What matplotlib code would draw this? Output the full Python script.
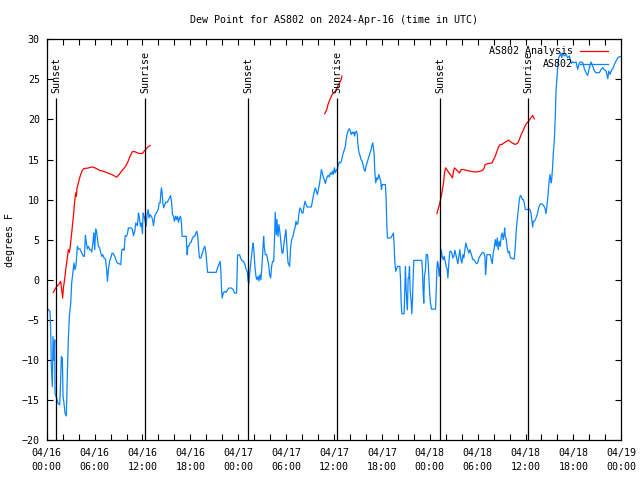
import numpy             as np
import pandas            as pd
import matplotlib
matplotlib.use('Agg')
import matplotlib.pyplot as plt
import matplotlib.dates  as mdates

START      = pd.Timestamp('2024-04-16 00:00')
END        = pd.Timestamp('2024-04-19 00:00')
FONT       = 'DejaVu Sans Mono'
FONT_SIZE  = 7.2
RED        = '#ff0000'
BLUE       = '#0a84ff'

############################
# Data (hours after START)
############################

obsHours = [
  0.16, 0.41, 0.50, 0.58, 0.71, 0.79, 0.92, 1.00, 1.04, 1.25, 1.42, 1.63, 1.75, 1.84, 1.96, 2.05,
  2.17, 2.30, 2.46, 2.59, 2.71, 2.84, 3.01, 3.13, 3.30, 3.42, 3.55, 3.68, 3.84, 3.97, 4.18, 4.39,
  4.60, 4.72, 4.85, 4.97, 5.10, 5.22, 5.39, 5.52, 5.64, 5.81, 5.89, 6.02, 6.14, 6.27, 6.40, 6.48,
  6.65, 6.77, 6.90, 7.02, 7.19, 7.36, 7.52, 7.61, 7.73, 7.90, 8.03, 8.19, 8.36, 8.53, 8.70, 8.86,
  9.07, 9.28, 9.41, 9.57, 9.70, 9.83, 9.99, 10.12, 10.24, 10.45, 10.62, 10.75, 10.87, 11.04, 11.16, 11.37,
  11.50, 11.62, 11.75, 11.87, 12.00, 12.08, 12.21, 12.33, 12.46, 12.58, 12.71, 12.83, 12.96, 13.21, 13.30, 13.38,
  13.55, 13.80, 13.97, 14.10, 14.22, 14.30, 14.38, 14.47, 14.55, 14.67, 14.80, 14.92, 15.13, 15.27, 15.39, 15.51,
  15.64, 15.76, 15.89, 16.01, 16.14, 16.26, 16.39, 16.51, 16.64, 16.77, 16.89, 16.97, 17.48, 17.60, 17.69, 17.81,
  17.94, 18.10, 18.27, 18.43, 18.56, 18.69, 18.81, 18.94, 19.06, 19.15, 19.32, 19.45, 19.57, 19.70, 19.82, 19.95,
  20.07, 20.16, 21.24, 21.40, 21.57, 21.74, 21.82, 21.91, 21.99, 22.12, 22.29, 22.49, 22.66, 22.83, 23.16, 23.37,
  23.54, 23.79, 23.86, 23.92, 24.17, 24.29, 24.46, 24.67, 24.84, 25.00, 25.13, 25.25, 25.34, 25.42, 25.55, 25.67,
  25.80, 25.88, 25.97, 26.09, 26.22, 26.34, 26.47, 26.59, 26.72, 26.84, 26.97, 27.09, 27.18, 27.26, 27.39, 27.56,
  27.68, 27.81, 27.93, 28.06, 28.18, 28.31, 28.44, 28.56, 28.64, 28.77, 28.85, 28.98, 29.10, 29.23, 29.35, 29.48,
  29.60, 29.73, 29.85, 29.98, 30.10, 30.23, 30.36, 30.44, 30.56, 30.69, 30.86, 30.98, 31.11, 31.24, 31.36, 31.49,
  31.61, 31.74, 31.86, 31.99, 32.12, 32.24, 32.37, 32.49, 32.62, 32.87, 33.16, 33.29, 33.41, 33.54, 33.66, 33.79,
  33.92, 34.04, 34.17, 34.29, 34.42, 34.54, 34.67, 34.79, 34.92, 35.04, 35.17, 35.30, 35.42, 35.55, 35.67, 35.80,
  35.92, 36.05, 36.17, 36.30, 36.42, 36.55, 36.68, 36.80, 36.93, 37.05, 37.18, 37.30, 37.43, 37.55, 37.68, 37.80,
  37.93, 38.05, 38.18, 38.30, 38.43, 38.51, 38.56, 38.68, 38.81, 38.93, 38.97, 39.10, 39.27, 39.39, 39.52, 39.64,
  39.77, 39.90, 40.02, 40.15, 40.27, 40.40, 40.52, 40.65, 40.73, 40.86, 40.94, 41.02, 41.11, 41.23, 41.36, 41.48,
  41.61, 41.73, 41.86, 41.94, 42.06, 42.44, 42.52, 42.62, 42.70, 43.11, 43.24, 43.36, 43.45, 43.53, 43.62, 43.74,
  43.87, 44.00, 44.25, 44.33, 44.41, 44.50, 44.79, 44.87, 44.95, 45.04, 45.12, 45.20, 45.29, 45.37, 45.46, 45.54,
  45.67, 45.75, 45.83, 45.92, 46.00, 47.00, 47.08, 47.17, 47.25, 47.33, 47.46, 47.55, 47.71, 47.79, 47.88, 47.96,
  48.09, 48.22, 48.72, 48.80, 48.89, 48.97, 49.06, 49.18, 49.30, 49.43, 49.55, 49.68, 49.81, 49.93, 50.06, 50.18,
  50.27, 50.39, 50.51, 50.64, 50.77, 50.89, 51.02, 51.15, 51.27, 51.40, 51.52, 51.65, 51.77, 51.90, 52.02, 52.15,
  52.27, 52.40, 52.52, 52.65, 52.78, 52.90, 53.03, 53.15, 53.28, 53.40, 53.53, 53.65, 53.78, 53.90, 54.03, 54.16,
  54.28, 54.41, 54.53, 54.66, 54.78, 54.91, 54.99, 55.07, 55.16, 55.58, 55.70, 55.83, 55.95, 56.08, 56.21, 56.33,
  56.46, 56.58, 56.71, 56.83, 56.96, 57.08, 57.21, 57.33, 57.38, 57.46, 57.59, 57.72, 57.84, 57.97, 58.10, 58.59,
  58.72, 58.84, 58.97, 59.09, 59.22, 59.35, 59.47, 59.60, 59.72, 59.85, 59.97, 60.18, 60.39, 60.56, 60.68, 60.81,
  60.89, 60.98, 61.10, 61.23, 61.39, 61.52, 61.64, 61.81, 61.93, 62.14, 62.31, 62.43, 62.56, 62.68, 62.81, 62.90,
  62.98, 63.06, 63.15, 63.23, 63.31, 63.40, 63.48, 63.56, 63.65, 63.73, 63.81, 63.90, 63.98, 64.07, 64.15, 64.28,
  64.40, 64.53, 64.65, 64.86, 65.07, 65.28, 65.49, 65.61, 65.74, 65.91, 66.12, 66.33, 66.54, 66.75, 66.96, 67.17,
  67.37, 67.58, 67.79, 68.00, 68.21, 68.42, 68.63, 68.84, 69.26, 69.47, 69.68, 69.89, 70.10, 70.31, 70.43, 70.60,
  70.77, 70.93, 71.14, 71.35, 71.56, 71.77, 72.00,
]

obsDewPoint = [
  -3.67, -3.96, -6.25, -10.83, -13.33, -7.08, -10.00, -7.50, -14.17, -14.79, -15.42, -15.63, -12.50, -9.58, -9.79, -14.58,
  -15.42, -16.67, -17.00, -11.67, -7.50, -4.58, -2.92, -0.42, 1.04, 2.08, 1.25, 1.88, 4.17, 3.83, 3.83, 3.33,
  2.92, 2.92, 5.54, 4.58, 3.83, 4.17, 3.75, 3.75, 3.46, 4.79, 5.83, 3.75, 6.33, 5.83, 4.79, 4.17,
  3.96, 3.33, 2.92, 3.13, 2.71, 2.58, 1.25, -0.21, 1.25, 2.42, 2.71, 3.33, 3.25, 2.92, 2.42, 2.08,
  2.00, 1.88, 3.75, 3.83, 3.67, 5.50, 5.42, 5.75, 6.46, 6.46, 6.46, 6.25, 5.50, 6.04, 7.08, 6.75,
  8.33, 7.71, 6.67, 7.08, 5.75, 8.33, 7.92, 7.29, 6.67, 8.13, 8.75, 7.71, 8.13, 7.71, 7.29, 6.75,
  8.00, 8.42, 8.75, 9.58, 9.58, 10.83, 11.46, 10.83, 9.58, 8.96, 9.38, 9.67, 9.67, 10.00, 10.20, 10.50,
  9.79, 8.13, 7.92, 7.29, 7.92, 7.50, 7.92, 7.17, 7.71, 7.92, 7.08, 5.42, 5.42, 3.13, 4.17, 4.17,
  4.58, 4.67, 5.21, 5.42, 5.42, 5.83, 6.04, 5.33, 3.54, 2.71, 2.71, 3.13, 3.54, 3.96, 4.17, 3.33,
  1.88, 0.92, 0.92, 1.46, 1.88, 2.29, 1.04, -1.25, -2.29, -1.67, -1.46, -1.58, -1.25, -1.04, -1.04, -1.25,
  -1.67, -1.67, 0.92, 3.08, 3.13, 2.71, 2.38, 2.29, 1.88, 1.25, 1.04, -0.21, -0.42, 0.63, 1.88, 2.92,
  4.17, 4.58, 3.54, 1.67, 0.42, 0.00, 0.42, -0.13, 0.63, 0.00, 1.67, 3.96, 5.42, 4.17, 3.13, 3.13,
  2.50, 1.88, 0.63, 0.21, 1.67, 2.29, 2.29, 5.42, 8.42, 5.63, 7.50, 5.42, 6.88, 5.83, 4.58, 3.33,
  3.33, 4.58, 5.42, 6.25, 4.17, 2.17, 1.88, 1.67, 3.96, 5.00, 5.42, 6.04, 6.46, 7.29, 6.88, 7.08,
  8.33, 8.96, 8.75, 8.33, 8.33, 9.17, 9.79, 9.38, 9.08, 9.08, 9.08, 9.79, 10.42, 11.04, 11.46, 11.04,
  10.63, 11.25, 11.88, 12.71, 13.75, 13.33, 12.71, 12.50, 12.00, 12.50, 12.92, 13.00, 12.83, 13.33, 13.13, 13.54,
  13.13, 13.96, 13.33, 13.75, 13.75, 14.38, 14.67, 14.58, 14.79, 15.42, 15.83, 16.25, 16.67, 17.71, 18.33, 18.67,
  18.83, 18.54, 18.13, 18.42, 18.25, 18.42, 17.92, 18.33, 18.54, 18.13, 17.08, 16.04, 15.42, 15.00, 14.79, 14.38,
  13.75, 13.54, 14.17, 14.58, 15.00, 15.42, 15.83, 16.25, 16.67, 17.08, 16.46, 15.83, 13.54, 12.08, 12.71, 12.50,
  13.13, 12.71, 12.29, 11.25, 11.88, 11.88, 10.42, 6.88, 5.21, 5.21, 5.42, 5.63, 5.83, 4.38, 2.29, 1.04,
  1.46, 1.67, 1.67, 0.21, -2.71, -4.25, -4.25, -1.25, 1.67, -1.25, -2.71, -3.75, 0.21, 0.21, 1.67, -1.25,
  -2.71, -4.25, -2.71, 0.42, 2.42, 2.42, 1.25, -1.46, -2.92, 0.42, 1.25, 3.13, 3.13, 2.29, 0.63, -1.17,
  -2.92, -3.67, -3.67, -1.67, 1.25, 2.29, 1.88, 0.42, 1.67, 3.75, 2.92, 2.50, 2.92, 2.29, 1.67, 1.25,
  0.21, 2.08, 3.54, 3.54, 3.33, 2.71, 2.92, 3.67, 3.13, 2.50, 2.00, 2.92, 3.75, 2.50, 2.08, 3.13,
  2.71, 3.75, 4.58, 4.08, 3.67, 3.33, 3.75, 3.33, 2.92, 2.50, 2.50, 2.29, 2.08, 2.00, 2.17, 2.71,
  2.92, 3.13, 3.33, 3.42, 3.33, 2.92, 0.63, 1.67, 3.13, 3.13, 2.50, 2.00, 3.33, 3.96, 5.00, 4.17,
  5.21, 3.75, 4.79, 4.17, 5.42, 5.83, 5.00, 5.83, 6.46, 5.42, 5.00, 3.75, 3.33, 3.54, 2.71, 2.58,
  4.17, 6.25, 7.50, 8.75, 10.00, 10.50, 10.42, 10.00, 10.00, 9.58, 8.75, 8.75, 8.83, 8.75, 8.33, 7.29,
  6.58, 7.29, 7.29, 7.50, 7.92, 8.33, 8.96, 9.38, 9.50, 9.38, 9.17, 8.96, 8.25, 9.17, 10.42, 11.67,
  12.50, 13.13, 12.50, 12.08, 12.92, 14.17, 15.83, 16.67, 18.33, 20.42, 23.33, 24.58, 25.83, 27.08, 27.71, 27.92,
  28.33, 27.71, 28.25, 27.92, 28.13, 27.71, 27.92, 27.50, 27.00, 27.17, 27.08, 27.17, 26.25, 27.08, 27.17, 27.08,
  26.33, 25.83, 25.50, 26.46, 27.17, 26.67, 26.04, 25.83, 25.83, 26.25, 26.46, 26.17, 26.04, 25.08, 26.04, 25.63,
  26.17, 26.33, 26.88, 27.29, 27.71, 27.83, 27.83,
]

# analysis series, NaN marks the gaps between runs
anaHours = [
  0.83, 1.13, 1.34, 1.55, 1.75, 1.88, 2.00, 2.09, 2.25, 2.38, 2.50, 2.63, 2.71, 2.84, 2.96, 3.13,
  3.26, 3.38, 3.51, 3.63, 3.72, 3.80, 3.92, 4.09, 4.26, 4.47, 4.68, 5.10, 5.72, 6.14, 6.56, 7.19,
  7.82, 8.24, 8.78, 9.07, 9.49, 9.91, 10.20, 10.45, 10.75, 11.08, 11.58, 12.00, 12.21, 12.46, 12.71, 12.96,
  np.nan,
  34.83, 35.10, 35.25, 35.50, 35.76, 36.17, 36.50, 36.90, 36.99,
  np.nan,
  48.89, 49.10, 49.31, 49.52, 49.72, 49.85, 49.98, 50.14, 50.35, 50.56, 50.85, 50.98, 51.10, 51.31, 51.52, 51.73,
  51.94, 52.23, 52.65, 53.07, 53.48, 53.90, 54.32, 54.65, 54.82, 54.94, 55.37, 55.79, 56.00, 56.21, 56.42, 56.62,
  56.83, 57.04, 57.46, 57.88, 58.30, 58.72, 59.05, 59.22, 59.47, 59.76, 59.97, 60.18, 60.39, 60.68, 60.89, 61.10,
]

anaDewPoint = [
  -1.58, -1.04, -0.75, -0.54, -0.21, -1.25, -2.29, -1.04, 0.08, 1.25, 2.08, 3.13, 3.75, 3.42, 4.25, 5.83,
  7.08, 8.33, 9.79, 10.83, 10.42, 11.46, 11.88, 12.58, 13.13, 13.67, 13.88, 13.92, 14.08, 13.92, 13.67, 13.50,
  13.25, 13.08, 12.79, 13.13, 13.67, 14.17, 14.79, 15.42, 16.00, 15.96, 15.75, 15.75, 16.04, 16.33, 16.58, 16.75,
  np.nan,
  20.71, 21.25, 21.88, 22.50, 23.10, 23.54, 24.17, 25.00, 25.40,
  np.nan,
  8.25, 8.96, 9.79, 10.83, 12.08, 13.33, 13.96, 13.75, 13.42, 13.13, 12.71, 13.54, 13.96, 13.75, 13.54, 13.33,
  13.75, 13.75, 13.63, 13.54, 13.46, 13.46, 13.54, 13.67, 13.96, 14.38, 14.50, 14.58, 15.00, 15.42, 16.04, 16.58,
  16.88, 16.88, 17.17, 17.42, 17.08, 16.88, 17.08, 17.50, 18.13, 18.75, 19.25, 19.58, 19.79, 20.21, 20.50, 20.08,
]

sunHours  = [1.21, 12.36, 25.27, 36.42, 49.33, 60.35]
sunLabels = ['Sunset', 'Sunrise', 'Sunset', 'Sunrise', 'Sunset', 'Sunrise']

def to_time(hours):
  return START + pd.to_timedelta(np.asarray(hours, dtype = float), unit = 'h')

############################
# Figure
############################

plt.rcParams['font.family'] = [FONT, 'DejaVu Sans']
plt.rcParams['font.size']   = FONT_SIZE

fig = plt.figure(figsize = (6.4, 4.8), dpi = 100)
ax  = fig.add_axes([46.7 / 640, 1 - 440 / 480, 574.6 / 640, 400.7 / 480])

ax.plot(to_time(anaHours), anaDewPoint, color = RED,  lw = 0.9, label = 'AS802 Analysis')
ax.plot(to_time(obsHours), obsDewPoint, color = BLUE, lw = 0.9, label = 'AS802')

sunTimes = to_time(sunHours)
ax.vlines(sunTimes, -20, 22.7, color = 'black', lw = 0.9)
for t, name in zip(sunTimes, sunLabels):
  ax.text(t, 23.3, name, rotation = 90, ha = 'center', va = 'bottom', fontsize = FONT_SIZE)

ax.set_xlim(START, END)
ax.set_ylim(-20, 30)
ax.set_yticks(np.arange(-20, 31, 5))

ax.xaxis.set_major_locator(mdates.HourLocator(byhour = range(0, 24, 6)))
ax.xaxis.set_minor_locator(mdates.HourLocator(byhour = range(0, 24, 2)))
ax.xaxis.set_major_formatter(mdates.DateFormatter('%m/%d\n%H:%M'))

ax.tick_params(axis = 'both', which = 'both', direction = 'in', top = True, right = True,
               length = 4, width = 0.8, labelsize = FONT_SIZE)
ax.tick_params(axis = 'x', which = 'major', pad = 6)
ax.tick_params(axis = 'y', which = 'major', pad = 5)
for lbl in ax.get_xticklabels():
  lbl.set_linespacing(1.45)

for spine in ax.spines.values():
  spine.set_linewidth(0.9)

ax.set_ylabel('degrees F', fontsize = FONT_SIZE)
ax.yaxis.set_label_coords(-0.055, 0.5)
ax.set_title('Dew Point for AS802 on 2024-Apr-16 (time in UTC)', fontsize = FONT_SIZE, pad = 12)

# legend sits a little in from the right edge, text right-aligned before the line
ax.legend(
  loc            = 'upper right',
  bbox_to_anchor = (1 - 6 / 574.6, 1),
  frameon        = False,
  markerfirst    = False,
  handlelength   = 2.8,
  handletextpad  = 0.7,
  labelspacing   = 0.3,
  borderaxespad  = 0.3,
  fontsize       = FONT_SIZE
)

fig.savefig('out.png', dpi = 100)
